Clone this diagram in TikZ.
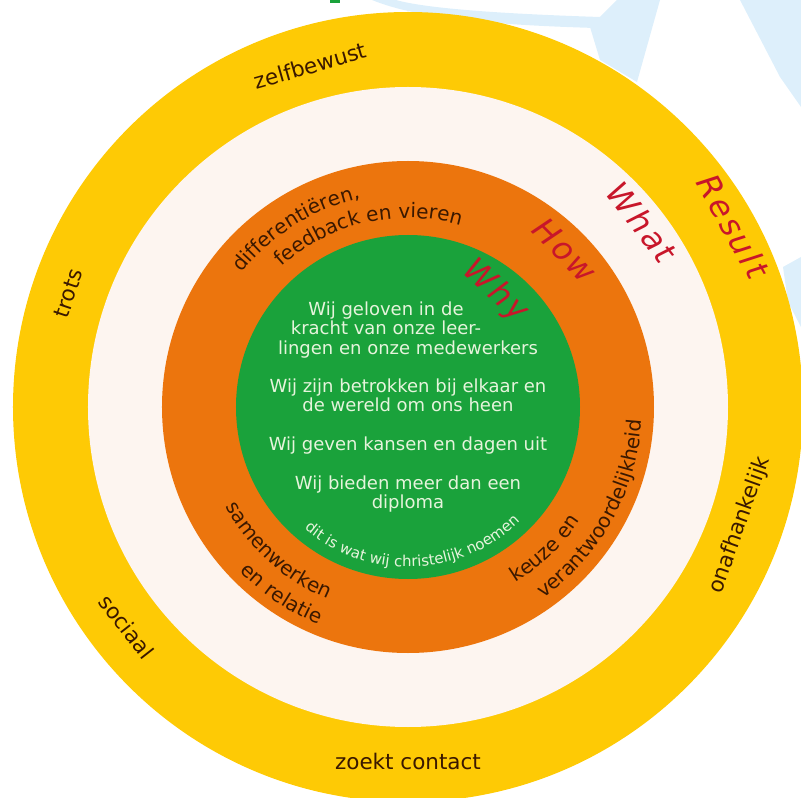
\documentclass[tikz,border=0pt]{standalone}
\usepackage{fontspec}
\setmainfont{DejaVu Sans}
\usepackage{tikz}
\usetikzlibrary{decorations.text}
\usepackage{xcolor}

\definecolor{ringyellow}{HTML}{FECA05}
\definecolor{ringcream}{HTML}{FDF5F0}
\definecolor{ringorange}{HTML}{EC750D}
\definecolor{ringgreen}{HTML}{1AA23B}
\definecolor{darkbrown}{HTML}{3A1800}
\definecolor{palegreen}{HTML}{E6F4DC}
\definecolor{markred}{HTML}{C8162A}
\definecolor{logoblue}{HTML}{DDEFFB}

\begin{document}
\begin{tikzpicture}[x=1pt,y=1pt,
    % styles
    ringword/.style={text=darkbrown, font=\fontsize{21.5}{24}\selectfont},
    markword/.style={text=markred, font=\fontsize{32}{36}\selectfont\itshape\addfontfeature{LetterSpace=8}},
    whytext/.style={text=palegreen, align=center, font=\fontsize{18}{19.3}\selectfont},
    ]
    \useasboundingbox (-408,-391) rectangle (393,407);
    \clip (-408,-391) rectangle (393,407);

    % logo in the background
    \fill[logoblue] (-36,407) .. controls (10,388) and (90,382) .. (187,379) -- (192,390) .. controls (100,393) and (20,398) .. (-12,407) -- cycle;
    \fill[logoblue] (182,380) -- (209,407) -- (252,407) -- (229,325) -- (192,347) -- cycle;
    \fill[logoblue] (332,407) -- (393,407) -- (393,300) -- (372,330) -- cycle;
    \fill[logoblue] (375,140) -- (393,150) -- (393,80) -- (380,105) -- cycle;
    \fill[ringgreen] (-78,407) rectangle (-68,404);

    % rings
    \fill[ringyellow] (0,0) circle (395);
    \fill[ringcream]  (0,0) circle (320);
    \fill[ringorange] (0,0) circle (246);
    \fill[ringgreen]  (0,0) circle (172);

    % outer ring
    \node[ringword, rotate=16]   (zelf)   at (106:355)   {zelfbewust};
    \node[ringword, rotate=71.5] (trots)  at (161.5:358) {trots};
    \node[ringword, rotate=-52]  (sociaal) at (218:357)  {sociaal};
    \node[ringword]              (contact) at (270:354)  {zoekt contact};
    \node[ringword, rotate=70.4] (onafh)  at (-19.6:352) {onafhankelijk};

    % handwritten words
    \node[markword, rotate=-61] (result) at (29:372)   {Result};
    \node[markword, rotate=-52] (what)   at (38.3:298) {What};
    \node[markword, rotate=-45] (how)    at (45:222)   {How};
    \node[markword, rotate=-42] (why)    at (53:145)   {Why};

    % orange ring, curved
    \path[decorate, decoration={text along path, text align=center, text color=darkbrown,
        text={|\fontsize{20}{22}\selectfont|differentiëren,}}]
        (167:214) arc[start angle=167, end angle=77, radius=214];
    \path[decorate, decoration={text along path, text align=center, text color=darkbrown,
        text={|\fontsize{20}{22}\selectfont|feedback en vieren}}]
        (148:189) arc[start angle=148, end angle=58, radius=189];
    \path[decorate, decoration={text along path, text align=center, text color=darkbrown,
        text={|\fontsize{20}{22}\selectfont|samenwerken}}]
        (188:208) arc[start angle=188, end angle=268, radius=208];
    \path[decorate, decoration={text along path, text align=center, text color=darkbrown,
        text={|\fontsize{20}{22}\selectfont|en relatie}}]
        (196:235) arc[start angle=196, end angle=276, radius=235];
    \path[decorate, decoration={text along path, text align=center, text color=darkbrown,
        text={|\fontsize{20}{22}\selectfont|keuze en}}]
        (-86:206) arc[start angle=-86, end angle=-6, radius=206];
    \path[decorate, decoration={text along path, text align=center, text color=darkbrown,
        text={|\fontsize{20}{22}\selectfont|verantwoordelijkheid}}]
        (-74:234) arc[start angle=-74, end angle=16, radius=234];

    % green core
    \node[whytext] (why text) at (0,0) {Wij geloven in de\hspace{44pt}\null\\
        kracht van onze leer-\hspace{44pt}\null\\
        lingen en onze medewerkers\\[19.3pt]
        Wij zijn betrokken bij elkaar en\\
        de wereld om ons heen\\[19.3pt]
        Wij geven kansen en dagen uit\\[19.3pt]
        Wij bieden meer dan een\\
        diploma};
    \path[decorate, decoration={text along path, text align=center, text color=palegreen,
        text={|\fontsize{15}{17}\selectfont|dit is wat wij christelijk noemen}}]
        (222:160) arc[start angle=222, end angle=322, radius=160];

\end{tikzpicture}
\end{document}
